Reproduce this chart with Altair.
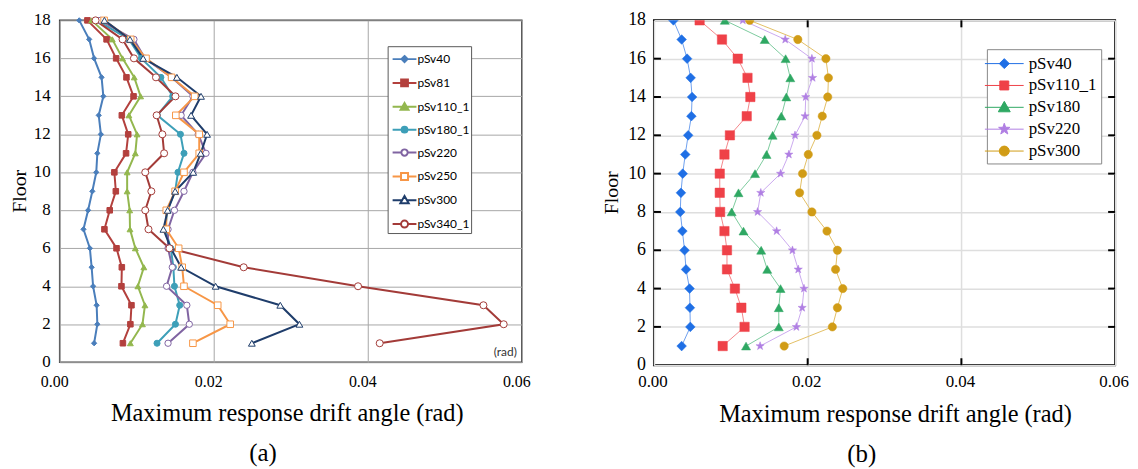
import altair as alt
import pandas as pd

# ---------------- data ----------------
floors = list(range(18, 0, -1))  # floor 18 down to 1

a_series = ["pSv40", "pSv81", "pSv110_1", "pSv180_1", "pSv220", "pSv250", "pSv300", "pSv340_1"]
a_pSv40 = [0.00254, 0.00383, 0.00447, 0.00544, 0.00567, 0.00507, 0.00535, 0.00489, 0.00475,
           0.00424, 0.00369, 0.00309, 0.00392, 0.00415, 0.00434, 0.00480, 0.00489, 0.00447]
a_pSv81 = [0.00360, 0.00609, 0.00733, 0.00867, 0.00959, 0.00807, 0.00890, 0.00862, 0.00710,
           0.00729, 0.00650, 0.00581, 0.00738, 0.00807, 0.00802, 0.00932, 0.00918, 0.00821]
a_pSv110_1 = [0.00415, 0.00683, 0.00816, 0.00968, 0.01051, 0.00899, 0.01005, 0.00982, 0.00876,
              0.00876, 0.00909, 0.00913, 0.00982, 0.01093, 0.01015, 0.01107, 0.01075, 0.00918]
a_pSv180_1 = [0.00484, 0.00900, 0.01060, 0.01314, 0.01467, 0.01268, 0.01568, 0.01614, 0.01536,
              0.01499, 0.01397, 0.01370, 0.01443, 0.01476, 0.01490, 0.01559, 0.01503, 0.01264]
a_pSv220 = [0.00530, 0.00964, 0.01107, 0.01453, 0.01730, 0.01577, 0.01799, 0.01900, 0.01730,
            0.01614, 0.01490, 0.01407, 0.01407, 0.01462, 0.01388, 0.01651, 0.01683, 0.01407]
a_pSv250 = [0.00577, 0.00922, 0.01121, 0.01453, 0.01753, 0.01508, 0.01812, 0.01812, 0.01614,
            0.01499, 0.01384, 0.01384, 0.01545, 0.01591, 0.01614, 0.02052, 0.02214, 0.01730]
a_pSv300 = [0.00581, 0.00913, 0.01084, 0.01522, 0.01835, 0.01706, 0.01914, 0.01831, 0.01734,
            0.01499, 0.01402, 0.01347, 0.01443, 0.01577, 0.02025, 0.02864, 0.03113, 0.02495]
a_pSv340_1 = [0.00466, 0.00816, 0.00964, 0.01250, 0.01503, 0.01259, 0.01333, 0.01356, 0.01111,
              0.01190, 0.01111, 0.01153, 0.01425, 0.02389, 0.03874, 0.05502, 0.05765, 0.04155]
a_values = [a_pSv40, a_pSv81, a_pSv110_1, a_pSv180_1, a_pSv220, a_pSv250, a_pSv300, a_pSv340_1]

b_series = ["pSv40", "pSv110_1", "pSv180", "pSv220", "pSv300"]
b_pSv40 = [0.00253, 0.00360, 0.00431, 0.00477, 0.00496, 0.00487, 0.00445, 0.00407, 0.00374,
           0.00351, 0.00342, 0.00370, 0.00398, 0.00417, 0.00463, 0.00468, 0.00473, 0.00360]
b_pSv110_1 = [0.00594, 0.00885, 0.01090, 0.01217, 0.01254, 0.01207, 0.00988, 0.00917, 0.00856,
              0.00856, 0.00861, 0.00917, 0.00950, 0.00950, 0.01053, 0.01137, 0.01179, 0.00894]
b_pSv180 = [0.00922, 0.01441, 0.01713, 0.01774, 0.01722, 0.01657, 0.01544, 0.01465, 0.01315,
            0.01100, 0.01011, 0.01165, 0.01395, 0.01474, 0.01647, 0.01624, 0.01624, 0.01198]
b_pSv220 = [0.01156, 0.01708, 0.02055, 0.02064, 0.01975, 0.01966, 0.01835, 0.01755, 0.01647,
            0.01390, 0.01348, 0.01596, 0.01802, 0.01877, 0.01952, 0.01928, 0.01853, 0.01381]
b_pSv300 = [0.01245, 0.01872, 0.02237, 0.02270, 0.02261, 0.02190, 0.02120, 0.02008, 0.01933,
            0.01895, 0.02055, 0.02251, 0.02387, 0.02363, 0.02457, 0.02387, 0.02321, 0.01694]
b_values = [b_pSv40, b_pSv110_1, b_pSv180, b_pSv220, b_pSv300]

x_ticks = [0.0, 0.02, 0.04, 0.06]
x_tick_labels = ["0.00", "0.02", "0.04", "0.06"]
y_ticks = list(range(0, 19, 2))
y_tick_labels = [str(v) for v in y_ticks]
inner_x_ticks = [0.02, 0.04]
inner_y_ticks = list(range(2, 18, 2))

x_title = "Maximum response drift angle (rad)"
y_title = "Floor"

# ---------------- styles ----------------
SERIF = "Liberation Serif, Times New Roman, Times, serif"
SANS = "Lato, Carlito, Open Sans, sans-serif"

a_colors = ["#4a7ebb", "#b3403d", "#93b74e", "#3d9fb8", "#8064a2", "#f79646", "#1f3d6b", "#a33b38"]
a_fills = ["#4a7ebb", "#b3403d", "#93b74e", "#3d9fb8", "white", "white", "white", "white"]
a_shapes = ["diamond", "square", "triangle-up", "circle", "circle", "square", "triangle-up", "circle"]
a_sizes = [28, 50, 60, 34, 45, 55, 70, 55]
a_sw = [1, 1, 1, 1, 1.5, 1.6, 1.6, 1.6]

b_colors = ["#1f6fe5", "#ef4148", "#2fa863", "#b07fe3", "#d19c16"]
b_line_colors = ["#6fa0ee", "#f4868a", "#7ccb9d", "#cba9ef", "#e3c065"]


def star(r=1.0):
    pts = [(0, -1), (0.235, -0.324), (0.951, -0.309), (0.38, 0.124), (0.588, 0.809),
           (0, 0.4), (-0.588, 0.809), (-0.38, 0.124), (-0.951, -0.309), (-0.235, -0.324)]
    s = "M" + "L".join(f"{x * r:.3f},{y * r:.3f}" for x, y in pts) + "Z"
    return s


b_shapes = ["diamond", "square", "triangle-up", star(1.0), "circle"]
b_sizes = [95, 70, 115, 140, 90]


# legend symbol paths (line + marker)
def seg(L, gap=0.0):
    if gap <= 0:
        return f"M{-L},0H{L}"
    return f"M{-L},0H{-gap}M{gap},0H{L}"


def diamond(r):
    return f"M0,{-r}L{r},0L0,{r}L{-r},0Z"


def square(r):
    return f"M{-r},{-r}H{r}V{r}H{-r}Z"


def tri(r):
    return f"M0,{-r}L{r},{0.75 * r}L{-r},{0.75 * r}Z"


def circ(r):
    return f"M{-r},0A{r},{r} 0 1,0 {r},0A{r},{r} 0 1,0 {-r},0Z"


LA = 1.09
a_leg_paths = [
    seg(LA) + diamond(0.28),
    seg(LA) + square(0.31),
    seg(LA) + tri(0.36),
    seg(LA) + circ(0.26),
    seg(LA, 0.29) + circ(0.29),
    seg(LA, 0.32) + square(0.32),
    seg(LA, 0.28) + tri(0.38),
    seg(LA, 0.32) + circ(0.32),
]
b_leg_paths = [
    seg(1.95) + diamond(0.5),
    seg(1.95) + square(0.45),
    seg(1.95) + tri(0.6),
    seg(1.95) + star(0.6),
    seg(1.95) + circ(0.5),
]


def long_df(names, values):
    rows = []
    for n, vals in zip(names, values):
        for f, v in zip(floors, vals):
            rows.append({"series": n, "floor": f, "drift": v})
    return pd.DataFrame(rows)


df_a = long_df(a_series, a_values)
df_b = long_df(b_series, b_values)
xlab_df = pd.DataFrame({"drift": x_ticks, "lab": x_tick_labels})
ylab_df = pd.DataFrame({"floor": y_ticks, "lab": y_tick_labels})
xtitle_df = pd.DataFrame({"t": [x_title]})
ytitle_df = pd.DataFrame({"t": [y_title]})


def grid_axis(values, color, width):
    return alt.Axis(values=values, labels=False, ticks=False, domain=False, title=None,
                    grid=True, gridColor=color, gridWidth=width)


def guide_text(xenc, yenc, W, H, xlab_size, xlab_dy, xlab_dx, ylab_size, ylab_x,
               ytitle_x, xtitle_dx, xtitle_dy):
    xl = alt.Chart(xlab_df).mark_text(font=SERIF, fontSize=xlab_size, baseline="middle",
                                      align="center", dx=xlab_dx, color="black").encode(
        x=xenc, y=alt.value(H + xlab_dy), text="lab:N")
    yl = alt.Chart(ylab_df).mark_text(font=SERIF, fontSize=ylab_size, baseline="middle",
                                      align="right", color="black").encode(
        y=yenc, x=alt.value(ylab_x), text="lab:N")
    yt = alt.Chart(ytitle_df).mark_text(font=SERIF, fontSize=20, baseline="middle",
                                        align="center", angle=270, color="black").encode(
        x=alt.value(ytitle_x), y=alt.value(H / 2), text="t:N")
    xt = alt.Chart(xtitle_df).mark_text(font=SERIF, fontSize=24.5, baseline="middle",
                                        align="center", color="black").encode(
        x=alt.value(W / 2 + xtitle_dx), y=alt.value(H + xtitle_dy), text="t:N")
    return [xl, yl, yt, xt]


# ---------------- panel (a) ----------------
W_A, H_A = 465, 344
xa = alt.X("drift:Q", scale=alt.Scale(domain=[0, 0.06], nice=False, zero=False),
           axis=grid_axis(x_ticks, "#a6a6a6", 1))
ya = alt.Y("floor:Q", scale=alt.Scale(domain=[0, 18], nice=False, zero=False),
           axis=grid_axis(y_ticks, "#a6a6a6", 1))

sc_a_stroke = alt.Scale(domain=a_series, range=a_colors)
lines_a = alt.Chart(df_a).mark_line(strokeWidth=2).encode(
    x=xa, y=ya, order=alt.Order("floor:Q"),
    stroke=alt.Stroke("series:N", scale=sc_a_stroke, legend=None),
)
points_a = alt.Chart(df_a).mark_point(opacity=1).encode(
    x=xa, y=ya,
    shape=alt.Shape("series:N", scale=alt.Scale(domain=a_series, range=a_shapes), legend=None),
    fill=alt.Fill("series:N", scale=alt.Scale(domain=a_series, range=a_fills), legend=None),
    stroke=alt.Stroke("series:N", scale=sc_a_stroke, legend=None),
    size=alt.Size("series:N", scale=alt.Scale(domain=a_series, range=a_sizes), legend=None),
    strokeWidth=alt.StrokeWidth("series:N", scale=alt.Scale(domain=a_series, range=a_sw), legend=None),
)
leg_a = alt.Legend(title=None, orient="none", legendX=330, legendY=26, direction="vertical",
                   symbolSize=484, symbolStrokeWidth=2, labelFont=SANS, labelFontSize=12,
                   labelColor="black", padding=1, rowPadding=4, labelOffset=1, symbolOffset=4,
                   fillColor="white", strokeColor="#595959")
legend_layer_a = alt.Chart(df_a).transform_filter("datum.floor > 100").mark_point(opacity=1).encode(
    x=xa, y=ya,
    shape=alt.Shape("series:N", scale=alt.Scale(domain=a_series, range=a_leg_paths), legend=leg_a),
    fill=alt.Fill("series:N", scale=alt.Scale(domain=a_series, range=a_fills), legend=leg_a),
    stroke=alt.Stroke("series:N", scale=sc_a_stroke, legend=leg_a),
)
rad_df = pd.DataFrame({"t": ["(rad)"]})
rad_text = alt.Chart(rad_df).mark_text(align="right", baseline="alphabetic", font=SANS,
                                       fontSize=12, color="#333333").encode(
    x=alt.value(W_A - 5), y=alt.value(H_A - 6), text="t:N")

texts_a = guide_text(xa, ya, W_A, H_A, xlab_size=16, xlab_dy=20, xlab_dx=-5, ylab_size=17,
                     ylab_x=-9, ytitle_x=-40, xtitle_dx=-3.5, xtitle_dy=52)

panel_a = alt.layer(lines_a, points_a, legend_layer_a, rad_text, *texts_a).resolve_scale(
    shape="independent", fill="independent", stroke="independent", size="independent",
    strokeWidth="independent"
).properties(
    width=W_A, height=H_A,
    view=alt.ViewBackground(stroke="#404040", strokeWidth=1.5),
    title=alt.TitleParams("(a)", orient="bottom", anchor="middle", font=SERIF, fontSize=25,
                          fontWeight="normal", color="black", offset=16, dx=-28),
)

# ---------------- panel (b) ----------------
W_B, H_B = 464, 347
xb = alt.X("drift:Q", scale=alt.Scale(domain=[0, 0.06], nice=False, zero=False),
           axis=grid_axis(x_ticks, "#dedede", 1.5))
yb = alt.Y("floor:Q", scale=alt.Scale(domain=[0, 18], nice=False, zero=False),
           axis=grid_axis(y_ticks, "#dedede", 1.5))

lines_b = alt.Chart(df_b).mark_line(strokeWidth=1, clip=True).encode(
    x=xb, y=yb, order=alt.Order("floor:Q"),
    stroke=alt.Stroke("series:N", scale=alt.Scale(domain=b_series, range=b_line_colors), legend=None),
)
sc_b = alt.Scale(domain=b_series, range=b_colors)
points_b = alt.Chart(df_b).mark_point(opacity=1, clip=True, strokeWidth=0.5).encode(
    x=xb, y=yb,
    shape=alt.Shape("series:N", scale=alt.Scale(domain=b_series, range=b_shapes), legend=None),
    fill=alt.Fill("series:N", scale=sc_b, legend=None),
    stroke=alt.Stroke("series:N", scale=sc_b, legend=None),
    size=alt.Size("series:N", scale=alt.Scale(domain=b_series, range=b_sizes), legend=None),
)
leg_b = alt.Legend(title=None, orient="none", legendX=335, legendY=29, direction="vertical",
                   symbolSize=400, symbolStrokeWidth=1, labelFont=SERIF, labelFontSize=17,
                   labelColor="black", padding=4, rowPadding=3, labelOffset=14, symbolOffset=3,
                   fillColor="white", strokeColor="#888888")
legend_layer_b = alt.Chart(df_b).transform_filter("datum.floor > 100").mark_point(opacity=1).encode(
    x=xb, y=yb,
    shape=alt.Shape("series:N", scale=alt.Scale(domain=b_series, range=b_leg_paths), legend=leg_b),
    fill=alt.Fill("series:N", scale=sc_b, legend=leg_b),
    stroke=alt.Stroke("series:N", scale=sc_b, legend=leg_b),
)

tick_y_df = pd.DataFrame({"floor": inner_y_ticks})
tick_x_df = pd.DataFrame({"drift": inner_x_ticks})
TL = 7
ticks_left = alt.Chart(tick_y_df).mark_rule(color="black", strokeWidth=2).encode(
    y=yb, x=alt.value(0), x2=alt.value(TL))
ticks_right = alt.Chart(tick_y_df).mark_rule(color="black", strokeWidth=2).encode(
    y=yb, x=alt.value(W_B - TL), x2=alt.value(W_B))
ticks_bottom = alt.Chart(tick_x_df).mark_rule(color="black", strokeWidth=2).encode(
    x=xb, y=alt.value(H_B - TL), y2=alt.value(H_B))
ticks_top = alt.Chart(tick_x_df).mark_rule(color="black", strokeWidth=2).encode(
    x=xb, y=alt.value(0), y2=alt.value(TL))

texts_b = guide_text(xb, yb, W_B, H_B, xlab_size=17, xlab_dy=16.5, xlab_dx=-1, ylab_size=18,
                     ylab_x=-8, ytitle_x=-42, xtitle_dx=11, xtitle_dy=50)

panel_b = alt.layer(lines_b, points_b, legend_layer_b, ticks_left, ticks_right, ticks_bottom,
                    ticks_top, *texts_b).resolve_scale(
    shape="independent", fill="independent", stroke="independent", size="independent"
).properties(
    width=W_B, height=H_B,
    view=alt.ViewBackground(stroke="black", strokeWidth=2),
    title=alt.TitleParams("(b)", orient="bottom", anchor="middle", font=SERIF, fontSize=25,
                          fontWeight="normal", color="black", offset=16, dx=-23),
)

chart = alt.hconcat(panel_a, panel_b, spacing=70).properties(
    padding={"left": 1, "top": 1, "right": 0, "bottom": 0},
    background="white",
)

chart.save("out.html", embed_options={"renderer": "svg", "actions": False})
